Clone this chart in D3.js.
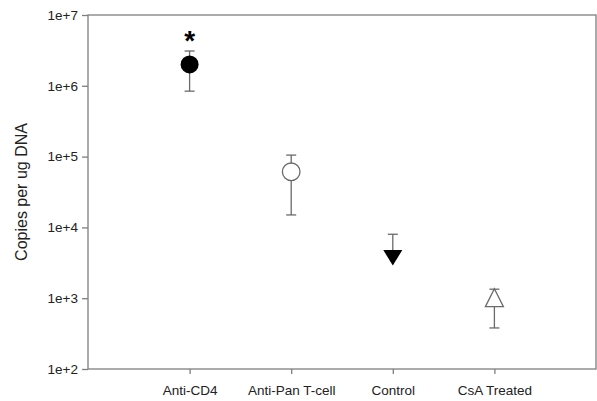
<!DOCTYPE html>
<html><head><meta charset="utf-8">
<script src="https://cdn.jsdelivr.net/npm/d3@7"></script>
<style>body{margin:0;background:#fff}</style>
</head><body>
<svg id="c" width="597" height="401"></svg>
<script>
const categories = ["Anti-CD4", "Anti-Pan T-cell", "Control", "CsA Treated"];
const values = [2.0e6, 6.1e4, 4.0e3, 1.0e3];
const upper = [3.1e6, 1.05e5, 8.0e3, 1.34e3];
const lower = [8.4e5, 1.5e4, null, 3.8e2];
const symbols = ["filledCircle", "openCircle", "filledTriangleDown", "openTriangleUp"];
const yTicks = [1e2, 1e3, 1e4, 1e5, 1e6, 1e7];
const yTickLabels = ["1e+2", "1e+3", "1e+4", "1e+5", "1e+6", "1e+7"];
const significance = ["*", "", "", ""];

const svg = d3.select("#c");
const L = 88, R = 596, T = 15, B = 369;
const x = d3.scaleLinear().domain([0, 5]).range([L, R]);
const y = d3.scaleLog().domain([1e2, 1e7]).range([B, T]);
const axisCol = "#7f7f7f";
const font = "Liberation Sans, Arial, sans-serif";

// frame
svg.append("rect").attr("x", L).attr("y", T).attr("width", R - L).attr("height", B - T)
  .attr("fill", "none").attr("stroke", axisCol).attr("stroke-width", 1.3);

// y axis
const ya = svg.append("g").attr("transform", `translate(${L},0)`)
  .call(d3.axisLeft(y).tickValues(yTicks).tickFormat((d, i) => yTickLabels[i]).tickSize(6).tickPadding(4));
ya.select(".domain").remove();
ya.selectAll("line").attr("stroke", axisCol).attr("stroke-width", 1.3);
ya.selectAll("text").attr("font-family", font).attr("font-size", 13.5).attr("fill", "#222");

// x axis
const xa = svg.append("g").attr("transform", `translate(0,${B})`)
  .call(d3.axisBottom(x).tickValues(categories.map((c, i) => i + 1)).tickFormat((d) => categories[d - 1]).tickSize(5).tickPadding(11));
xa.select(".domain").remove();
xa.selectAll("line").attr("stroke", axisCol).attr("stroke-width", 1.3);
xa.selectAll("text").attr("font-family", font).attr("font-size", 13.5).attr("fill", "#222");

// y label
svg.append("text").attr("transform", `translate(27,192) rotate(-90)`)
  .attr("text-anchor", "middle").attr("font-family", font).attr("font-size", 16).attr("fill", "#222")
  .text("Copies per ug DNA");

const errCol = "#6a6a6a";
categories.forEach((c, i) => {
  const cx = x(i + 1), cy = y(values[i]);
  const g = svg.append("g");
  const top = y(upper[i]);
  const bot = lower[i] == null ? cy : y(lower[i]);
  g.append("line").attr("x1", cx).attr("x2", cx).attr("y1", top).attr("y2", bot).attr("stroke", errCol).attr("stroke-width", 1.3);
  g.append("line").attr("x1", cx - 5).attr("x2", cx + 5).attr("y1", top).attr("y2", top).attr("stroke", errCol).attr("stroke-width", 1.3);
  if (lower[i] != null)
    g.append("line").attr("x1", cx - 5).attr("x2", cx + 5).attr("y1", bot).attr("y2", bot).attr("stroke", errCol).attr("stroke-width", 1.3);
  const s = symbols[i];
  if (s === "filledCircle") {
    g.append("circle").attr("cx", cx).attr("cy", cy).attr("r", 9).attr("fill", "#000");
  } else if (s === "openCircle") {
    g.append("circle").attr("cx", cx).attr("cy", cy).attr("r", 8.8).attr("fill", "#fff").attr("stroke", errCol).attr("stroke-width", 1.3);
  } else if (s === "filledTriangleDown") {
    g.append("path").attr("d", `M${cx - 9.5},${cy - 5.5} L${cx + 9.5},${cy - 5.5} L${cx},${cy + 10} Z`).attr("fill", "#000");
  } else {
    g.append("path").attr("d", `M${cx},${cy - 9.5} L${cx + 9},${cy + 8.5} L${cx - 9},${cy + 8.5} Z`).attr("fill", "#fff").attr("stroke", errCol).attr("stroke-width", 1.3);
  }
  if (significance[i]) {
    svg.append("text").attr("x", cx).attr("y", top - 1).attr("text-anchor", "middle")
      .attr("font-family", font).attr("font-size", 28).attr("font-weight", "bold").attr("fill", "#000")
      .text(significance[i]);
  }
});
</script>
</body></html>
